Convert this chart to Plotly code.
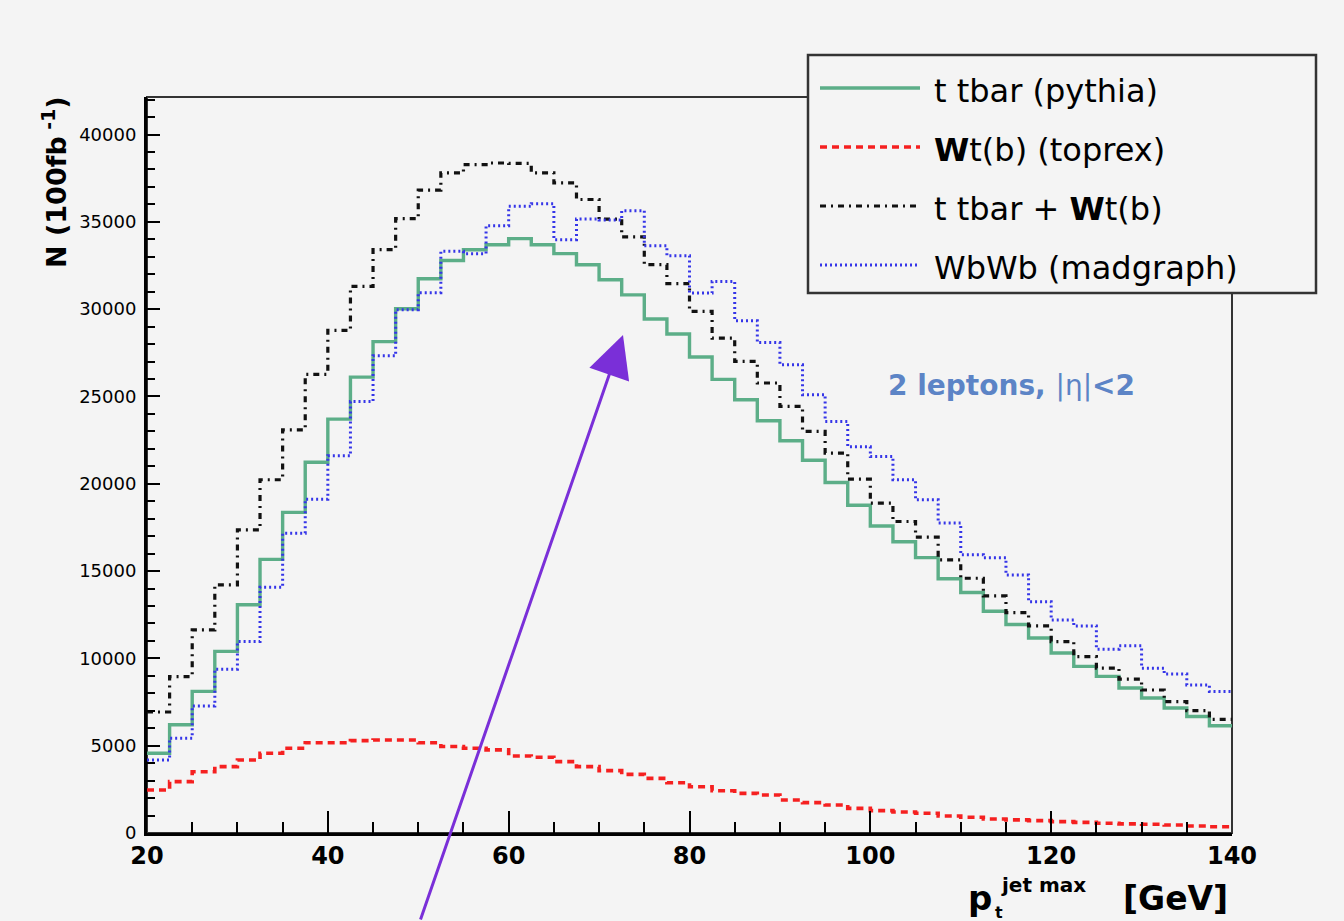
import plotly.graph_objects as go

# ---------------- data ----------------
bin_edges = [20.0, 22.5, 25.0, 27.5, 30.0, 32.5, 35.0, 37.5, 40.0, 42.5,
             45.0, 47.5, 50.0, 52.5, 55.0, 57.5, 60.0, 62.5, 65.0, 67.5,
             70.0, 72.5, 75.0, 77.5, 80.0, 82.5, 85.0, 87.5, 90.0, 92.5,
             95.0, 97.5, 100.0, 102.5, 105.0, 107.5, 110.0, 112.5, 115.0, 117.5,
             120.0, 122.5, 125.0, 127.5, 130.0, 132.5, 135.0, 137.5, 140.0]

ttbar_pythia = [4570, 6200, 8110, 10400, 13070, 15670, 18360, 21230, 23700, 26110,
                28140, 30020, 31740, 32790, 33400, 33690, 34040, 33690, 33180, 32540,
                31680, 30820, 29440, 28580, 27260, 25980, 24810, 23610, 22460, 21350,
                20070, 18770, 17580, 16680, 15770, 14560, 13770, 12700, 11940, 11170,
                10310, 9540, 8970, 8300, 7730, 7160, 6670, 6140]

wtb_toprex = [2460, 2940, 3510, 3800, 4180, 4570, 4850, 5170, 5170, 5290,
              5330, 5330, 5170, 4950, 4850, 4760, 4410, 4340, 4090, 3800,
              3570, 3360, 3130, 2880, 2650, 2420, 2270, 2180, 1890, 1740,
              1600, 1410, 1280, 1200, 1130, 970, 900, 800, 750, 710,
              650, 610, 560, 520, 500, 460, 400, 360]

ttbar_plus_wtb = [6930, 8960, 11630, 14210, 17360, 20230, 23090, 26270, 28780, 31300,
                  33410, 35180, 36820, 37800, 38280, 38370, 38350, 37800, 37230, 36280,
                  35160, 34140, 32550, 31460, 29870, 28340, 27010, 25770, 24430, 23000,
                  21760, 20270, 18890, 17840, 16940, 15640, 14590, 13580, 12620, 11860,
                  10960, 10100, 9440, 8810, 8190, 7520, 7010, 6510]

wbwb_madgraph = [4180, 5430, 7280, 9380, 10960, 14080, 17170, 19120, 21600, 24710,
                 27330, 29970, 30940, 33310, 33180, 34780, 35890, 36040, 33980, 35160,
                 35110, 35640, 33630, 33060, 30920, 31590, 29340, 28090, 26820, 25100,
                 23570, 22120, 21560, 20230, 19080, 17750, 15930, 15760, 14780, 13250,
                 12200, 11860, 10530, 10720, 9440, 9110, 8480, 8100]

series_names = ["t tbar (pythia)", "<b>W</b>t(b) (toprex)",
                "t tbar + <b>W</b>t(b)", "WbWb (madgraph)"]
y_ticks = [0, 5000, 10000, 15000, 20000, 25000, 30000, 35000, 40000]
x_ticks = [20, 40, 60, 80, 100, 120, 140]

# ---------------- layout geometry ----------------
W, H = 1344, 921
ML, MR, MT, MB = 147, 112, 97, 88
PW, PH = W - ML - MR, H - MT - MB


def px(xp):
    return (xp - ML) / PW


def py(yp):
    return (H - MB - yp) / PH


BG = "#f4f4f4"
GREEN = "#5cae88"
RED = "#f52020"
BLACK = "#111111"
BLUE = "#3535e8"

styles = [
    dict(color=GREEN, width=3.4, dash="solid"),
    dict(color=RED, width=3.6, dash="7px,5px"),
    dict(color=BLACK, width=3.2, dash="6px,5px,2px,5px"),
    dict(color=BLUE, width=3.0, dash="2px,3px"),
]
series = [ttbar_pythia, wtb_toprex, ttbar_plus_wtb, wbwb_madgraph]

fig = go.Figure()
for name, vals, st in zip(series_names, series, styles):
    fig.add_trace(go.Scatter(
        x=bin_edges, y=list(vals) + [vals[-1]], mode="lines",
        line=dict(shape="hv", **st), name=name, showlegend=False,
        hoverinfo="skip"))

FONT = "DejaVu Sans"

fig.update_layout(
    width=W, height=H,
    margin=dict(l=ML, r=MR, t=MT, b=MB, autoexpand=False),
    paper_bgcolor=BG, plot_bgcolor=BG,
    showlegend=False,
    font=dict(family=FONT, color="black"),
    xaxis=dict(
        range=[20, 140], tickvals=x_ticks, ticktext=[str(v) for v in x_ticks],
        showgrid=False, zeroline=False, showline=True, linewidth=3, linecolor="black",
        ticks="inside", ticklen=22, tickwidth=2, tickcolor="black",
        minor=dict(ticks="inside", ticklen=11, tickwidth=2, tickcolor="black", dtick=5, showgrid=False),
        tickfont=dict(family=FONT, size=24, weight="bold", color="black"),
        ticklabelstandoff=-1, automargin=False,
    ),
    yaxis=dict(
        range=[0, 42150], tickvals=y_ticks, ticktext=[str(v) for v in y_ticks],
        showgrid=False, zeroline=False, showline=True, linewidth=3, linecolor="black",
        ticks="inside", ticklen=13, tickwidth=2, tickcolor="black",
        minor=dict(ticks="inside", ticklen=8, tickwidth=2, tickcolor="black", dtick=1000, showgrid=False),
        tickfont=dict(family=FONT, size=18, color="black"),
        ticklabelstandoff=4, automargin=False,
    ),
)

shapes = []
# frame (top and right thin lines)
shapes.append(dict(type="rect", xref="paper", yref="paper", x0=0, x1=1, y0=0, y1=1,
                   line=dict(color="#333333", width=2), layer="below"))
# legend box
LX0, LX1, LY0, LY1 = 808, 1316, 55, 293
shapes.append(dict(type="rect", xref="paper", yref="paper",
                   x0=px(LX0), x1=px(LX1), y0=py(LY1), y1=py(LY0),
                   line=dict(color="#333333", width=2.5), fillcolor=BG, layer="above"))
entry_y = [88, 147, 206, 265]
for ey, st in zip(entry_y, styles):
    shapes.append(dict(type="line", xref="paper", yref="paper",
                       x0=px(820), x1=px(920), y0=py(ey), y1=py(ey),
                       line=dict(color=st["color"], width=st["width"], dash=st["dash"]),
                       layer="above"))
fig.update_layout(shapes=shapes)

ann = []
for ey, name in zip(entry_y, series_names):
    ann.append(dict(xref="paper", yref="paper", x=px(932), y=py(ey + 3), text=name,
                    showarrow=False, xanchor="left", yanchor="middle",
                    font=dict(family=FONT, size=32, color="black")))
# y-axis title
ann.append(dict(xref="paper", yref="paper", x=px(54), y=py(182),
                text="<b>N (100fb<sup> -1</sup>)</b>", textangle=-90, showarrow=False,
                xanchor="center", yanchor="middle",
                font=dict(family=FONT, size=27, color="black")))
# x-axis title pieces
ann.append(dict(xref="paper", yref="paper", x=px(980), y=py(898), text="<b>p</b>",
                showarrow=False, xanchor="center", yanchor="middle",
                font=dict(family=FONT, size=34, color="black")))
ann.append(dict(xref="paper", yref="paper", x=px(999), y=py(912), text="<b>t</b>",
                showarrow=False, xanchor="center", yanchor="middle",
                font=dict(family=FONT, size=16, color="black")))
ann.append(dict(xref="paper", yref="paper", x=px(999), y=py(885), text="<b>jet max</b>",
                showarrow=False, xanchor="left", yanchor="middle",
                font=dict(family=FONT, size=20, color="black")))
ann.append(dict(xref="paper", yref="paper", x=px(1175), y=py(898), text="<b>[GeV]</b>",
                showarrow=False, xanchor="center", yanchor="middle",
                font=dict(family=FONT, size=33, color="black")))
# selection label
ann.append(dict(xref="paper", yref="paper", x=px(1011), y=py(385),
                text="<b>2 leptons, </b>|η|<b>&lt;2</b>", showarrow=False,
                xanchor="center", yanchor="middle",
                font=dict(family=FONT, size=28, color="#5c84c6")))
# purple arrow
ann.append(dict(xref="paper", yref="paper", x=px(623), y=py(335), text="",
                showarrow=True, axref="pixel", ayref="pixel", ax=420 - 623, ay=930 - 335,
                arrowhead=2, arrowsize=2.8, arrowwidth=3, arrowcolor="#7a2fd8",
                standoff=0))
fig.update_layout(annotations=ann)

fig.write_html("out.html", config={"displayModeBar": False},
               post_script="document.body.style.margin='0';document.body.style.padding='0';")
